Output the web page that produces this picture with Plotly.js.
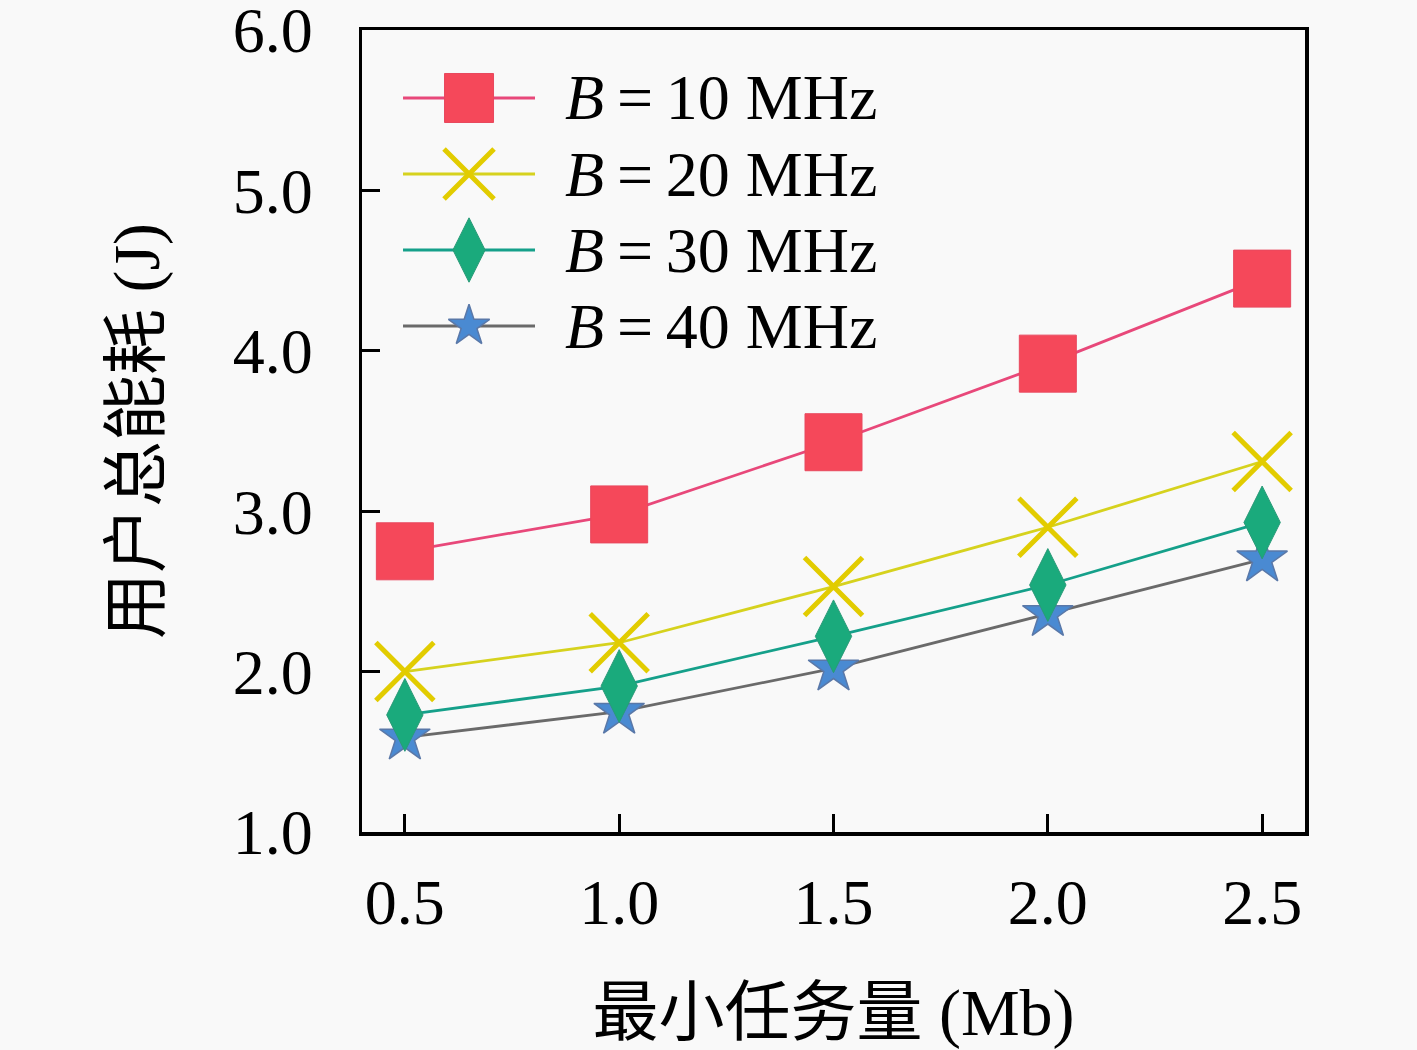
<!DOCTYPE html>
<html>
<head>
<meta charset="utf-8">
<script src="https://cdn.plot.ly/plotly-3.0.1.min.js"></script>
<style>
  html, body { margin: 0; padding: 0; background: #f9f9f9; }
  #chart { width: 1417px; height: 1050px; }
</style>
</head>
<body>
<div id="chart"></div>
<script>
// Total user energy vs. minimum task size, one line per bandwidth.
const taskMb = [0.5, 1.0, 1.5, 2.0, 2.5];
const energyB10 = [2.75, 2.98, 3.43, 3.92, 4.45];
const energyB20 = [2.00, 2.18, 2.53, 2.90, 3.31];
const energyB30 = [1.73, 1.91, 2.22, 2.54, 2.93];
const energyB40 = [1.59, 1.75, 2.02, 2.36, 2.70];
const seriesNames = ["B=10 MHz", "B=20 MHz", "B=30 MHz", "B=40 MHz"];
const seriesValues = [energyB10, energyB20, energyB30, energyB40];
const yTicks = [1.0, 2.0, 3.0, 4.0, 5.0, 6.0];

const SERIF = "'Liberation Serif', 'Noto Sans CJK SC', serif";
const TEXT_SIZE = 64;

// per-series look: line colour, marker symbol/colour, sizes on plot + in legend
const STYLES = [
  { line: "#e8487a", symbol: "square", color: "#f5485a", edge: "#e8485e", size: 57, legSize: 49, lw: 1 },
  { line: "#d6d21e", symbol: "x-thin", color: "#e2cc00", edge: "#e2cc00", size: 58, legSize: 50, lw: 5 },
  { line: "#15a08a", symbol: "diamond-tall", color: "#1aaa7c", edge: "#2a9a78", size: 52, legSize: 46, lw: 1 },
  { line: "#6a6a6a", symbol: "star", color: "#4a8ad2", edge: "#5a78a8", size: 38, legSize: 31, lw: 1.5 },
];

function mainTrace(i) {
  const st = STYLES[i];
  return {
    type: "scatter",
    mode: "lines+markers",
    name: seriesNames[i],
    x: taskMb,
    y: seriesValues[i],
    line: { color: st.line, width: 2.8 },
    marker: { symbol: st.symbol, size: st.size, color: st.color, opacity: 1, line: { color: st.edge, width: st.lw } },
    showlegend: false,
    xaxis: "x",
    yaxis: "y",
  };
}

// legend drawn on a small hidden inset axis so the markers can be full size
function legendTrace(i) {
  const st = STYLES[i];
  return {
    type: "scatter",
    mode: "lines+markers",
    x: [0, 0.5, 1],
    y: [i, i, i],
    line: { color: st.line, width: 2.8 },
    marker: {
      symbol: st.symbol,
      size: [0, st.legSize, 0],
      color: st.color,
      opacity: 1,
      line: { color: st.edge, width: st.lw },
    },
    showlegend: false,
    hoverinfo: "skip",
    xaxis: "x2",
    yaxis: "y2",
  };
}

// later series drawn first so B=10 sits on top
const traces = [3, 2, 1, 0].map(mainTrace).concat([0, 1, 2, 3].map(legendTrace));

// thin spaces round "=" to mimic the wider math-mode equals sign
const legendText = seriesNames.map((n, i) => ({
  xref: "x2",
  yref: "y2",
  x: 1,
  y: i,
  xanchor: "left",
  yanchor: "middle",
  xshift: 28,
  showarrow: false,
  text: n.replace("B=", "<i>B</i>\u2009=\u2009"),
  font: { family: SERIF, size: TEXT_SIZE, color: "#000" },
}));

const axisCommon = {
  showline: true,
  linecolor: "#000",
  linewidth: 3.5,
  mirror: true,
  ticks: "inside",
  ticklen: 18,
  tickwidth: 3,
  tickcolor: "#000",
  showgrid: false,
  zeroline: false,
  ticklabeloverflow: "allow",
  tickfont: { family: SERIF, size: TEXT_SIZE, color: "#000" },
};

const layout = {
  width: 1417,
  height: 1050,
  margin: { l: 362, r: 112, t: 30, b: 218 },
  paper_bgcolor: "#f9f9f9",
  plot_bgcolor: "#f9f9f9",
  showlegend: false,
  xaxis: Object.assign({}, axisCommon, {
    range: [0.4, 2.6],
    tickvals: taskMb,
    ticktext: taskMb.map((v) => v.toFixed(1)),
    ticklabelstandoff: 12,
    title: { text: "最小任务量 (Mb)", standoff: 55, font: { family: SERIF, size: 66, color: "#000" } },
  }),
  yaxis: Object.assign({}, axisCommon, {
    range: [1, 6],
    tickvals: yTicks,
    ticktext: yTicks.map((v) => v.toFixed(1)),
    ticklabelstandoff: 33,
    title: { text: "用户总能耗 (J)", standoff: 52, font: { family: SERIF, size: 66, color: "#000" } },
  }),
  xaxis2: { domain: [0.0435, 0.1835], range: [0, 1], anchor: "y2", visible: false, fixedrange: true },
  yaxis2: { domain: [0.5835, 0.9626], range: [3.5, -0.5], anchor: "x2", visible: false, fixedrange: true },
  annotations: legendText,
};

Plotly.newPlot("chart", traces, layout, { staticPlot: true, displayModeBar: false });
</script>
</body>
</html>
